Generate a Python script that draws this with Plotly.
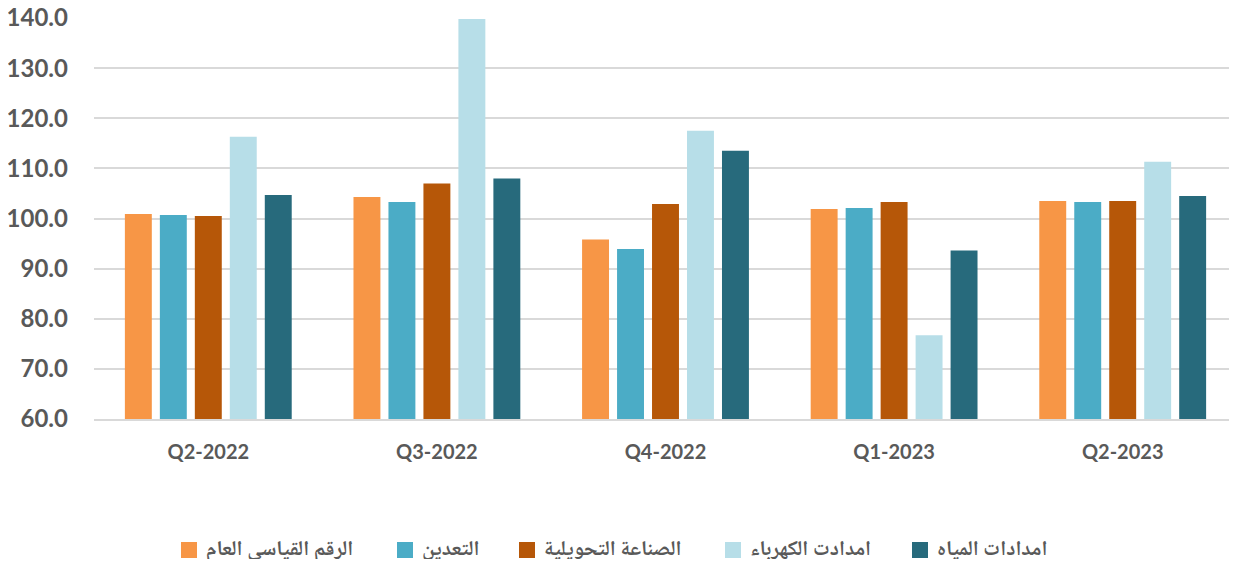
import plotly.graph_objects as go

categories = ["Q2-2022", "Q3-2022", "Q4-2022", "Q1-2023", "Q2-2023"]
series_names = ["الرقم القياسي العام", "التعدين", "الصناعة التحويلية", "امدادت الكهرباء", "امدادات المياه"]
general_index = [100.9, 104.3, 95.8, 101.9, 103.5]
mining = [100.7, 103.3, 93.9, 102.1, 103.3]
manufacturing = [100.5, 107.0, 102.9, 103.3, 103.5]
electricity = [116.3, 139.8, 117.5, 76.7, 111.3]
water = [104.7, 108.0, 113.5, 93.6, 104.5]
colors = ["#F79646", "#4BACC6", "#B65708", "#B7DEE8", "#276A7C"]
y_ticks = [60, 70, 80, 90, 100, 110, 120, 130, 140]

# the page body adds an 8px margin on every side, so the figure is laid out
# smaller (and shifted) to fit the 1237x567 window without scrollbars
OFF = 8
W, H = 1237 - OFF, 567 - 2 * OFF
ML, MT = 94 - OFF, 18 - OFF
plot_w = W - ML
plot_h = 401
MB = H - MT - plot_h

# legend key positions (screen pixels of each key square's left edge)
legend_x = [181, 397, 519, 725, 912]
legend_y = 550


def px_x(px):
    return (px - OFF - ML) / plot_w


def px_y(py):
    return (H - MB - (py - OFF)) / plot_h


fig = go.Figure()
for name, vals, col in zip(series_names, [general_index, mining, manufacturing, electricity, water], colors):
    fig.add_trace(go.Bar(x=categories, y=vals, name=name, marker=dict(color=col, line=dict(width=0))))

for name, col, lx in zip(series_names, colors, legend_x):
    fig.add_shape(type="rect", xref="paper", yref="paper",
                  x0=px_x(lx), x1=px_x(lx + 16),
                  y0=px_y(legend_y + 8), y1=px_y(legend_y - 8),
                  fillcolor=col, line=dict(width=0))
    fig.add_annotation(xref="paper", yref="paper", x=px_x(lx + 23), y=px_y(legend_y),
                       xanchor="left", yanchor="middle", showarrow=False, text=name,
                       font=dict(family="Noto Naskh Arabic, Noto Sans Arabic, DejaVu Sans",
                                 size=21, color="#595959", weight="bold"))

fig.update_layout(
    width=W, height=H,
    margin=dict(l=ML, r=0, t=MT, b=MB, autoexpand=False),
    paper_bgcolor="white", plot_bgcolor="white",
    barmode="group", bargap=0.235, bargroupgap=0.23,
    font=dict(family="Lato", color="#595959"),
    showlegend=False,
)
fig.update_xaxes(showgrid=False, showline=True, linecolor="#D9D9D9", linewidth=2,
                 tickfont=dict(family="Lato", size=20, color="#595959", weight="bold"),
                 ticks="", ticklabelstandoff=14, automargin=False)
fig.update_yaxes(range=[60, 140], tickvals=y_ticks, ticktext=[f"{v:.1f}" for v in y_ticks],
                 showgrid=True, gridcolor="#D9D9D9", gridwidth=2, zeroline=False,
                 tickfont=dict(family="Lato", size=24, color="#595959", weight="bold"),
                 ticks="", ticklabelstandoff=25, automargin=False,
                 ticklabeloverflow="allow")

fig.write_html("out.html")
